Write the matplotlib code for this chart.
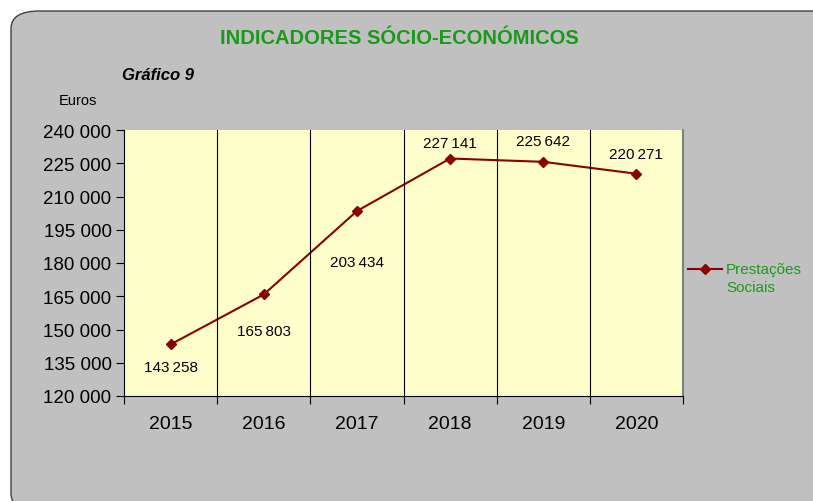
import matplotlib
matplotlib.use("Agg")
import matplotlib.pyplot as plt
from matplotlib.patches import FancyBboxPatch
from matplotlib.lines import Line2D
from matplotlib import font_manager

years = ["2015", "2016", "2017", "2018", "2019", "2020"]
values = [143258, 165803, 203434, 227141, 225642, 220271]
label_offsets = [-23, -37, -51, 16, 21, 20]
yticks = [120000, 135000, 150000, 165000, 180000, 195000, 210000, 225000, 240000]

names = {f.name for f in font_manager.fontManager.ttflist}
narrow = "Liberation Sans Narrow" if "Liberation Sans Narrow" in names else "Liberation Sans"
plt.rcParams['font.family'] = ["Liberation Sans", "DejaVu Sans"]

def fmt(v, sep=" "):
    return f"{v:,}".replace(",", sep)

fig = plt.figure(figsize=(8.13, 5.02), dpi=100)
fig.patch.set_facecolor("white")
box = FancyBboxPatch((11/813, -0.02), 830/813, 1 - 12/502 + 0.02,
                     boxstyle="round,pad=0,rounding_size=0.035",
                     transform=fig.transFigure, facecolor="#C0C0C0",
                     edgecolor="#404040", linewidth=1.0, zorder=-10)
fig.patches.append(box)

ax = fig.add_axes([124/813, 1 - 397/502, (683 - 124)/813, (397 - 131)/502])
ax.set_zorder(5)
ax.set_facecolor("#FFFFCC")
x = list(range(len(years)))
ax.plot(x, values, color="#8B0000", marker="D", markersize=5, linewidth=1.5)
ax.set_xlim(-0.5, len(years) - 0.5)
ax.set_ylim(120000, 240000)
ax.set_yticks(yticks)
ax.set_yticklabels([fmt(v) for v in yticks], fontsize=13.5, family=narrow)
ax.set_xticks([i - 0.5 for i in range(len(years) + 1)], minor=False)
ax.set_xticklabels([])
ax.set_xticks(x, minor=True)
ax.set_xticklabels(years, minor=True, fontsize=14, family=narrow)
ax.tick_params(axis="x", which="minor", length=0, pad=14)
ax.tick_params(axis="x", which="major", length=6, direction="out", color="#000000")
ax.tick_params(axis="y", length=6, direction="out", pad=3)
for b in range(1, len(years)):
    ax.axvline(b - 0.5, color="#000000", linewidth=0.8)
ax.spines["top"].set_visible(False)
ax.spines["right"].set_color("#808080")
ax.spines["right"].set_linewidth(1.5)
ax.spines["left"].set_color("#000000")
ax.spines["bottom"].set_color("#000000")

for i, (v, off) in enumerate(zip(values, label_offsets)):
    ax.annotate(fmt(v, "\u2009"), (i, v), xytext=(0, off), textcoords="offset pixels",
                ha="center", va="center", fontsize=11)

fig.text(399/813, 1 - 38/502, "INDICADORES SÓCIO-ECONÓMICOS", ha="center", va="center",
         fontsize=14.5, fontweight="bold", color="#1A9A1A", family=narrow)
fig.text(122/813, 1 - 76/502, "Gráfico 9", ha="left", va="center",
         fontsize=12, fontweight="bold", style="italic", color="#000000", family=narrow)
fig.text(78/813, 1 - 101/502, "Euros", ha="center", va="center", fontsize=10.5,
         color="#000000", family=narrow)

legline = Line2D([688/813, 705/813, 722/813], [1 - 270/502] * 3, transform=fig.transFigure,
                 color="#8B0000", linewidth=1.5, marker="D", markersize=5, markevery=[1])
fig.lines.append(legline)
fig.text(726/813, 1 - 279/502, "Prestações\nSociais", ha="left", va="center",
         fontsize=11, color="#1A9A1A", linespacing=1.3)

fig.savefig("out.png", dpi=100, facecolor=fig.get_facecolor())
